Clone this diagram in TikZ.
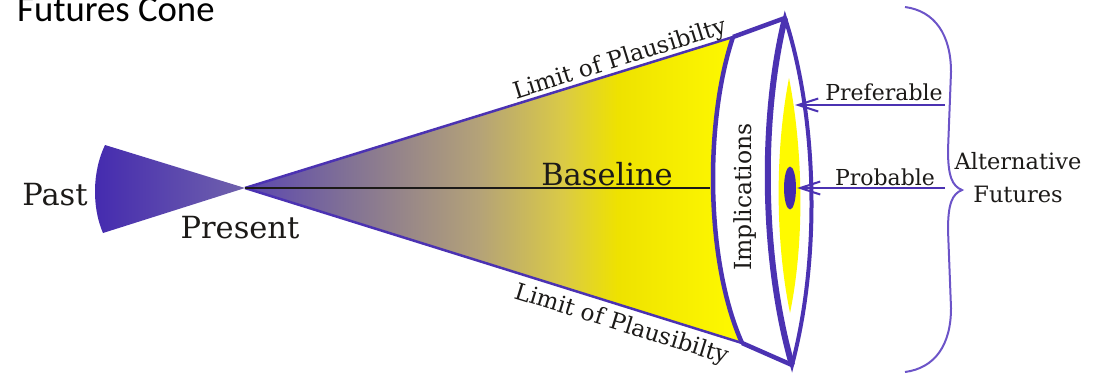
\documentclass[tikz,border=0pt]{standalone}
\usepackage{fontspec}
\setmainfont{DejaVu Serif}
\newfontfamily\titlefont{Carlito}
\usetikzlibrary{arrows.meta}
\definecolor{lineP}{RGB}{75,50,178}
\definecolor{braceP}{RGB}{108,84,200}
\definecolor{pastL}{RGB}{68,42,175}
\definecolor{pastR}{RGB}{112,98,172}
\definecolor{txt}{RGB}{28,26,24}
\definecolor{yel}{RGB}{255,250,0}
\definecolor{cA}{RGB}{90,70,176}
\definecolor{cB}{RGB}{128,112,150}
\definecolor{cC}{RGB}{180,162,120}
\definecolor{cD}{RGB}{218,202,70}
\definecolor{cE}{RGB}{238,226,0}
\definecolor{cF}{RGB}{255,250,0}
\pgfdeclarehorizontalshading{conegrad}{100bp}{color(0bp)=(cA); color(25bp)=(cA); color(35bp)=(cB); color(48.5bp)=(cC); color(57bp)=(cD); color(62.5bp)=(cE); color(75bp)=(cF); color(100bp)=(cF)}
\tikzset{
  lbl/.style={inner sep=0pt, text=txt},
  big/.style={lbl, font=\fontsize{30.5}{36}\selectfont},
  mid/.style={lbl, font=\fontsize{22.5}{33}\selectfont},
  small/.style={lbl, font=\fontsize{22}{26}\selectfont},
  edge/.style={draw=lineP, line width=2.5pt},
  thick edge/.style={draw=lineP, line width=4.5pt},
  pointer/.style={draw=lineP, line width=2pt, -{Straight Barb[length=20pt,width=13pt]}},
}
\begin{document}
\begin{tikzpicture}[x=1pt, y=-1pt]
\useasboundingbox (0,0) rectangle (1099,376);
% key points
\coordinate (apex) at (245,188);
\coordinate (pastT) at (105,145);
\coordinate (pastB) at (103,233);
\coordinate (yc1) at (733,37);
\coordinate (yc2) at (742,343);
\coordinate (topc) at (785,18);
\coordinate (botc) at (792,365);
\coordinate (blEnd) at (710,188);
% past wedge
\path[left color=pastL, right color=pastR] (apex) -- (pastT) .. controls (92,172) and (92,208) .. (pastB) -- cycle;
% cone
\path[shading=conegrad] (apex) -- (yc1) .. controls (705,120) and (705,260) .. (yc2) -- cycle;
\draw[edge] (apex) -- (yc1);
\draw[edge] (apex) -- (yc2);
\draw[thick edge, line join=miter] (yc1) .. controls (705,120) and (705,260) .. (yc2);
\draw[thick edge, line join=miter] (yc1) -- (topc);
\draw[thick edge, line join=miter] (yc2) -- (botc);
% lens
\draw[draw=lineP, line width=4pt, line join=miter] (topc) .. controls (760,120) and (762,260) .. (botc) .. controls (820,260) and (818,120) .. (topc) -- cycle;
\draw[draw=lineP, line width=6pt] (topc) .. controls (760,120) and (762,260) .. (botc);
\fill[yel] (789,78) .. controls (775,150) and (775,240) .. (790,313) .. controls (805,240) and (803,150) .. (789,78) -- cycle;
\fill[pastL] (790,188) ellipse [x radius=6, y radius=21.5];
% baseline
\draw[txt, line width=2.2pt] (apex) -- (blEnd);
% labels
\node[lbl, anchor=base west, text=black, font=\titlefont\fontsize{36.7}{40}\selectfont] (title) at (17,21) {Futures Cone};
\node[big, anchor=base] (past) at (55,205) {Past};
\node[big, anchor=base] (present) at (240,238) {Present};
\node[big, anchor=base] (baseline) at (607,185) {Baseline};
\node[lbl, font=\fontsize{23.2}{26}\selectfont, anchor=base, rotate=17.4] (limU) at (622,66) {Limit of Plausibilty};
\node[lbl, font=\fontsize{23.2}{26}\selectfont, anchor=base, rotate=-17.2] (limL) at (620,331) {Limit of Plausibilty};
\node[lbl, font=\fontsize{23.5}{26}\selectfont, rotate=90] (impl) at (745,197) {Implications};
\node[small, anchor=base] (pref) at (884,100) {Preferable};
\node[small, anchor=base] (prob) at (885,185) {Probable};
\node[mid, align=center] (alt) at (1018,178) {Alternative\\Futures};
% pointers
\coordinate (prefS) at (945,105);
\coordinate (prefE) at (795,105);
\coordinate (probS) at (945,188);
\coordinate (probE) at (797,188);
\draw[pointer] (prefS) -- (prefE);
\draw[pointer] (probS) -- (probE);
% brace
\coordinate (brT) at (905,7);
\coordinate (brTip) at (962,190);
\coordinate (brB) at (905,372);
\draw[braceP, line width=2pt] (brT) .. controls (935,11) and (951,35) .. (951,72) -- (948,150) .. controls (948,176) and (952,186) .. (brTip) .. controls (952,194) and (948,204) .. (948,230) -- (951,308) .. controls (951,345) and (935,368) .. (brB);
\end{tikzpicture}
\end{document}
